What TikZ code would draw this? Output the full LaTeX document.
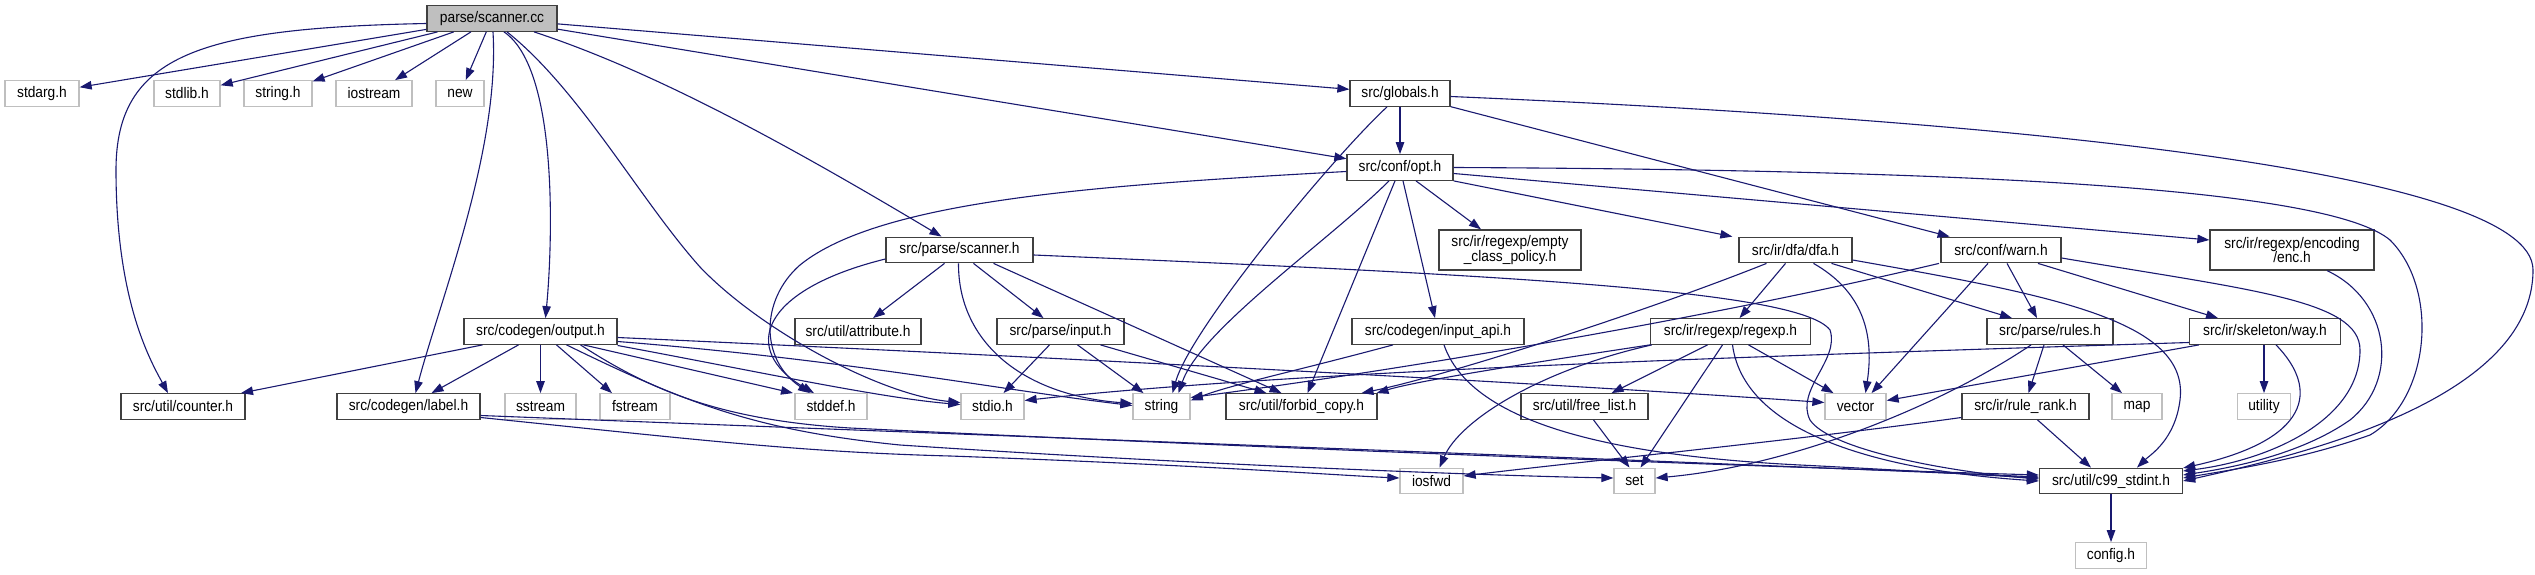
\documentclass[tikz,border=0pt]{standalone}
\usepackage{fontspec}
\setmainfont{Liberation Sans}[FakeStretch=0.9]
\usetikzlibrary{arrows.meta}
\definecolor{edgec}{HTML}{191970}
\definecolor{docb}{HTML}{404040}
\definecolor{sysb}{HTML}{BFBFBF}
\definecolor{mainf}{HTML}{BFBFBF}
\newcommand{\dxfont}{\fontsize{15.3pt}{14.5pt}\selectfont}
\tikzset{
  nbase/.style={rectangle, line width=1.3pt, inner xsep=0pt, inner ysep=0pt, minimum height=25.5pt, font=\dxfont, text=black, align=center},
  doc/.style={nbase, draw=docb, fill=white},
  sys/.style={nbase, draw=sysb, fill=white},
  mainnode/.style={nbase, draw=docb, fill=mainf},
  tall/.style={minimum height=40pt},
  edge/.style={draw=edgec, line width=1.1pt, -{Triangle[length=12pt,width=8.5pt]}}
}
\begin{document}
\begin{tikzpicture}[x=1pt,y=-1pt]
\path[use as bounding box, fill=white] (0,0) rectangle (2535,575);
% nodes
\node[mainnode, minimum width=130pt] (cc) at (492,18.5) {parse/scanner.cc};
\node[sys, minimum width=74pt] (stdarg) at (42,93.5) {stdarg.h};
\node[sys, minimum width=66pt] (stdlib) at (187,93.5) {stdlib.h};
\node[sys, minimum width=68pt] (stringh) at (278,93.5) {string.h};
\node[sys, minimum width=76pt] (iostream) at (374,93.5) {iostream};
\node[sys, minimum width=48pt] (new) at (460,93.5) {new};
\node[doc, minimum width=100pt] (globals) at (1400,93.5) {src/globals.h};
\node[doc, minimum width=106pt] (opt) at (1400,167.5) {src/conf/opt.h};
\node[doc, minimum width=147pt] (scanh) at (959.5,250) {src/parse/scanner.h};
\node[doc, tall, minimum width=142pt] (empty) at (1510,250) {src/ir/regexp/empty\\\_class\_policy.h};
\node[doc, minimum width=113pt] (dfa) at (1795.5,250) {src/ir/dfa/dfa.h};
\node[doc, minimum width=120pt] (warn) at (2001,250) {src/conf/warn.h};
\node[doc, tall, minimum width=164pt] (enc) at (2292,250) {src/ir/regexp/encoding\\/enc.h};
\node[doc, minimum width=153pt] (output) at (540.5,331.5) {src/codegen/output.h};
\node[doc, minimum width=126pt] (attr) at (858,331.5) {src/util/attribute.h};
\node[doc, minimum width=127pt] (input) at (1060.5,331.5) {src/parse/input.h};
\node[doc, minimum width=172pt] (inapi) at (1438,331.5) {src/codegen/input\_api.h};
\node[doc, minimum width=160pt] (regexp) at (1730.5,331.5) {src/ir/regexp/regexp.h};
\node[doc, minimum width=126pt] (rules) at (2050,331.5) {src/parse/rules.h};
\node[doc, minimum width=151pt] (way) at (2265,331.5) {src/ir/skeleton/way.h};
\node[doc, minimum width=124pt] (counter) at (183,406.5) {src/util/counter.h};
\node[doc, minimum width=143pt] (label) at (408.5,406.5) {src/codegen/label.h};
\node[sys, minimum width=71pt] (sstream) at (540.5,406.5) {sstream};
\node[sys, minimum width=70pt] (fstream) at (635,406.5) {fstream};
\node[sys, minimum width=72pt] (stddef) at (831,406.5) {stddef.h};
\node[sys, minimum width=63pt] (stdio) at (992.5,406.5) {stdio.h};
\node[sys, minimum width=57pt] (string) at (1161.5,406.5) {string};
\node[doc, minimum width=151pt] (forbid) at (1301.5,406.5) {src/util/forbid\_copy.h};
\node[doc, minimum width=127pt] (freelist) at (1584.5,406.5) {src/util/free\_list.h};
\node[sys, minimum width=61pt] (vector) at (1855.5,406.5) {vector};
\node[doc, minimum width=127pt] (rulerank) at (2025.5,406.5) {src/ir/rule\_rank.h};
\node[sys, minimum width=50pt] (map) at (2137,406.5) {map};
\node[sys, minimum width=53pt] (utility) at (2264,406.5) {utility};
\node[sys, minimum width=63pt] (iosfwd) at (1431.5,481) {iosfwd};
\node[sys, minimum width=41pt] (set) at (1634.5,481) {set};
\node[doc, minimum width=143pt] (c99) at (2111,481) {src/util/c99\_stdint.h};
\node[sys, minimum width=71pt] (config) at (2111,555.5) {config.h};
% edges from parse/scanner.cc
\draw[edge] (cc) -- (stdarg);
\draw[edge] (cc) -- (stdlib);
\draw[edge] (cc) -- (stringh);
\draw[edge] (cc) -- (iostream);
\draw[edge] (cc) -- (new);
\draw[edge] ([yshift=-5pt]cc.west) .. controls (200,28) and (116,55) .. (116,170) .. controls (116,300) and (150,360) .. ([xshift=-15pt]counter.north);
\draw[edge] ([xshift=1pt]cc.south) .. controls (500,150) and (440,300) .. ([xshift=7pt]label.north);
\draw[edge] ([xshift=12pt]cc.south) .. controls (560,70) and (552,250) .. ([xshift=5pt]output.north);
\draw[edge] ([xshift=15pt]cc.south) .. controls (580,90) and (640,200) .. (700,267) .. controls (760,330) and (880,395) .. ([yshift=4pt]stdio.west);
\draw[edge] ([xshift=42pt]cc.south) .. controls (650,70) and (780,140) .. ([xshift=-18pt]scanh.north);
\draw[edge] (cc) -- (globals);
\draw[edge] (cc) -- (opt);
% globals
\draw[edge] (globals) -- (opt);
\draw[edge] ([xshift=-13pt]globals.south) .. controls (1330,160) and (1190,330) .. ([xshift=11pt]string.north);
\draw[edge] (globals) -- (warn);
\draw[edge] ([yshift=-3pt]globals.east) .. controls (2000,120) and (2533,170) .. (2533,270) .. controls (2533,400) and (2300,455) .. ([yshift=0pt]c99.east);
% opt
\draw[edge] ([yshift=-4pt]opt.west) .. controls (1100,185) and (880,200) .. (800,265) .. controls (760,300) and (760,360) .. ([xshift=-21pt]stddef.north);
\draw[edge] ([xshift=-11pt]opt.south) .. controls (1330,240) and (1200,330) .. ([xshift=17pt]string.north);
\draw[edge] ([xshift=-5pt]opt.south) -- ([xshift=6pt]forbid.north);
\draw[edge] ([xshift=3pt]opt.south) -- ([xshift=-3pt]inapi.north);
\draw[edge] ([xshift=16pt]opt.south) -- ([xshift=-29pt]empty.north);
\draw[edge] (opt.south east) -- ([xshift=-6pt]dfa.north west);
\draw[edge] ([yshift=-6pt]opt.east) -- ([yshift=10pt]enc.west);
\draw[edge] (opt.east) .. controls (2000,170) and (2330,190) .. (2390,240) .. controls (2440,290) and (2430,400) .. (2370,435) .. controls (2300,460) and (2230,470) .. ([yshift=3pt]c99.east);
% warn
\draw[edge] ([xshift=-62pt]warn.south) .. controls (1700,320) and (1400,370) .. ([yshift=9pt]string.east);
\draw[edge] ([xshift=-13pt]warn.south) -- ([xshift=16pt]vector.north);
\draw[edge] ([xshift=6pt]warn.south) -- ([xshift=-13pt]rules.north);
\draw[edge] ([xshift=37pt]warn.south) -- ([xshift=-47pt]way.north);
\draw[edge] ([yshift=-8pt]warn.east) .. controls (2250,290) and (2360,300) .. (2360,350) .. controls (2360,420) and (2270,460) .. ([yshift=10pt]c99.east);
% enc
\draw[edge] ([xshift=35pt]enc.south) .. controls (2390,300) and (2400,380) .. (2350,420) .. controls (2300,455) and (2230,468) .. ([yshift=6pt]c99.east);
% scanner.h
\draw[edge] ([yshift=-9pt]scanh.west) .. controls (760,290) and (740,350) .. ([xshift=-17pt]stddef.north);
\draw[edge] ([xshift=-15pt]scanh.south) -- ([xshift=15pt]attr.north);
\draw[edge] ([xshift=14pt]scanh.south) -- ([xshift=-17pt]input.north);
\draw[edge] ([xshift=-1pt]scanh.south) .. controls (958,340) and (1020,395) .. ([yshift=3pt]string.west);
\draw[edge] ([xshift=34pt]scanh.south) -- ([xshift=-20pt]forbid.north);
\draw[edge] ([yshift=-5pt]scanh.east) .. controls (1500,275) and (1800,290) .. (1830,330) .. controls (1840,360) and (1795,390) .. (1810,420) .. controls (1830,450) and (1950,472) .. ([yshift=2pt]c99.west);
% dfa
\draw[edge] ([xshift=-29pt]dfa.south) .. controls (1650,310) and (1450,375) .. ([xshift=60pt]forbid.north);
\draw[edge] ([xshift=-10pt]dfa.south) -- ([xshift=9pt]regexp.north);
\draw[edge] ([xshift=18pt]dfa.south) .. controls (1860,290) and (1875,330) .. ([xshift=10pt]vector.north);
\draw[edge] ([xshift=36pt]dfa.south) -- ([xshift=-38pt]rules.north);
\draw[edge] ([yshift=-10pt]dfa.east) .. controls (2050,295) and (2190,320) .. (2180,400) .. controls (2175,440) and (2150,455) .. ([xshift=26pt]c99.north);
% regexp
\draw[edge] (regexp.south west) .. controls (1550,360) and (1420,380) .. ([xshift=75pt]forbid.north);
\draw[edge] ([xshift=-23pt]regexp.south) -- ([xshift=27pt]freelist.north);
\draw[edge] ([xshift=2pt]regexp.south west) .. controls (1540,370) and (1460,420) .. ([xshift=8pt]iosfwd.north);
\draw[edge] ([xshift=-8pt]regexp.south) -- ([xshift=6pt]set.north);
\draw[edge] ([xshift=18pt]regexp.south) -- ([xshift=-22pt]vector.north);
\draw[edge] ([xshift=2pt]regexp.south) .. controls (1745,440) and (1900,472) .. ([yshift=0pt]c99.west);
% rules
\draw[edge] ([xshift=-6pt]rules.south) -- ([xshift=3pt]rulerank.north);
\draw[edge] ([xshift=13pt]rules.south) -- ([xshift=-15pt]map.north);
\draw[edge] ([xshift=-19pt]rules.south) .. controls (1950,400) and (1800,465) .. ([yshift=3pt]set.east);
% rule_rank
\draw[edge] ([yshift=-11pt]rulerank.west) .. controls (1800,440) and (1550,465) .. ([yshift=5pt]iosfwd.east);
\draw[edge] ([xshift=12pt]rulerank.south) -- ([xshift=-20pt]c99.north);
% way
\draw[edge] ([xshift=-66pt]way.south) -- ([yshift=6pt]vector.east);
\draw[edge] ([yshift=-11pt]way.west) .. controls (1800,355) and (1300,370) .. ([yshift=6pt]stdio.east);
\draw[edge] ([xshift=-1pt]way.south) -- (utility.north);
\draw[edge] ([xshift=11pt]way.south) .. controls (2320,390) and (2310,440) .. ([yshift=13pt]c99.east);
% input
\draw[edge] ([xshift=-11pt]input.south) -- ([xshift=11pt]stdio.north);
\draw[edge] ([xshift=17pt]input.south) -- ([xshift=-18pt]string.north);
\draw[edge] ([xshift=40pt]input.south) -- ([xshift=-35pt]forbid.north);
% input_api
\draw[edge] ([xshift=-45pt]inapi.south) .. controls (1300,370) and (1230,385) .. ([yshift=6pt]string.east);
\draw[edge] ([xshift=6pt]inapi.south) .. controls (1470,420) and (1600,455) .. (1800,465) .. controls (1900,470) and (1980,475) .. ([yshift=3pt]c99.west);
% free_list
\draw[edge] ([xshift=9pt]freelist.south) -- ([xshift=-5pt]set.north);
% c99
\draw[edge] (c99) -- (config);
% output
\draw[edge] ([xshift=-58pt]output.south) -- ([xshift=58pt]counter.north);
\draw[edge] ([xshift=-22pt]output.south) -- ([xshift=23pt]label.north);
\draw[edge] (output) -- (sstream);
\draw[edge] ([xshift=16pt]output.south) -- ([xshift=-23pt]fstream.north);
\draw[edge] ([xshift=43pt]output.south) -- ([xshift=-38pt]stddef.north);
\draw[edge] ([yshift=-14pt]output.east) .. controls (750,370) and (880,398) .. ([yshift=2pt]stdio.west);
\draw[edge] ([yshift=-10pt]output.east) .. controls (850,360) and (1000,390) .. ([yshift=1pt]string.west);
\draw[edge] ([yshift=-6pt]output.east) .. controls (1000,355) and (1500,380) .. ([yshift=4pt]vector.west);
\draw[edge] ([xshift=40pt]output.south) .. controls (650,390) and (720,420) .. (850,428) .. controls (1300,450) and (1800,468) .. ([yshift=6pt]c99.west);
\draw[edge] ([xshift=26pt]output.south) .. controls (680,400) and (750,430) .. (900,445) .. controls (1200,465) and (1500,476) .. ([yshift=3pt]set.west);
% label
\draw[edge] ([yshift=-11pt]label.east) .. controls (700,440) and (800,452) .. (950,456) .. controls (1200,465) and (1350,476) .. ([yshift=3pt]iosfwd.west);
\draw[edge] ([yshift=-9pt]label.east) .. controls (900,432) and (1600,458) .. ([yshift=4pt]c99.west);
\end{tikzpicture}
\end{document}
